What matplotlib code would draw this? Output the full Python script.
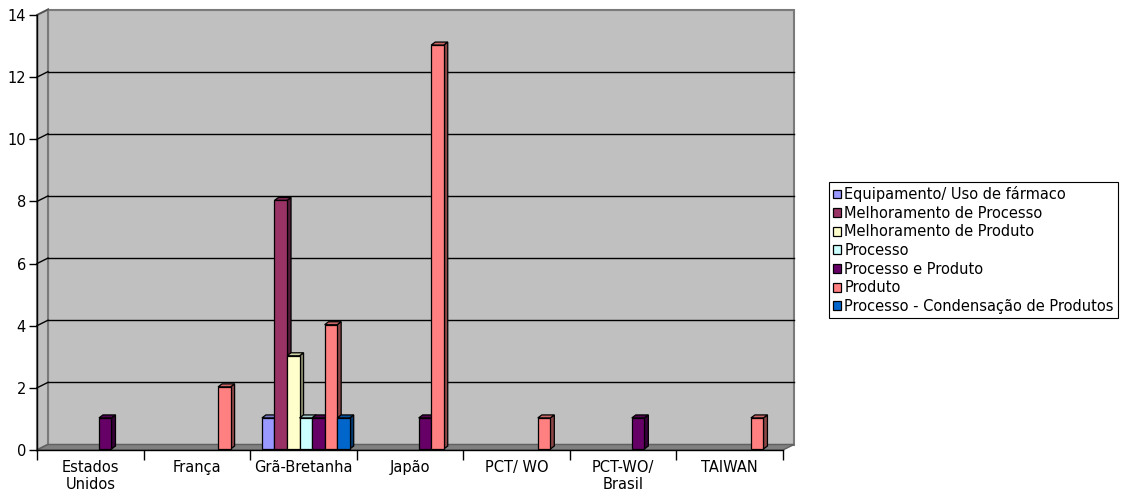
import numpy as np
import matplotlib
matplotlib.use('Agg')
from matplotlib import pyplot as plt
from matplotlib.patches import Polygon
from matplotlib.colors import to_rgb

# Patentes por país de depósito e tipo de reivindicação
paises = ['Estados\nUnidos', 'França', 'Grã-Bretanha', 'Japão',
          'PCT/ WO', 'PCT-WO/\nBrasil', 'TAIWAN']
tipos = ['Equipamento/ Uso de fármaco', 'Melhoramento de Processo',
         'Melhoramento de Produto', 'Processo', 'Processo e Produto',
         'Produto', 'Processo - Condensação de Produtos']
cores = ['#9999FF', '#993366', '#FFFFCC', '#CCFFFF', '#660066',
         '#FF8080', '#0066CC']

equipamento = [0, 0, 1, 0, 0, 0, 0]
melhor_processo = [0, 0, 8, 0, 0, 0, 0]
melhor_produto = [0, 0, 3, 0, 0, 0, 0]
processo = [0, 0, 1, 0, 0, 0, 0]
processo_produto = [1, 0, 1, 1, 0, 1, 0]
produto = [0, 2, 4, 13, 1, 0, 1]
condensacao = [0, 0, 1, 0, 0, 0, 0]
series = [equipamento, melhor_processo, melhor_produto, processo,
          processo_produto, produto, condensacao]

W, H = 1125, 492
fig = plt.figure(figsize=(W / 100, H / 100), dpi=100)
fig.patch.set_facecolor('white')
ax = fig.add_axes([37 / W, 42 / H, 746 / W, 435 / H])
ax.set_xlim(-0.5, 6.5)
ax.set_ylim(0, 14)
ax.patch.set_visible(False)

# pixel -> data unit conversion for the fake 3d depth
sx = 7 / 746
sy = 14 / 435
wdx, wdy = 11 * sx, 5.5 * sy     # back wall offset
bdx, bdy = 2.4 * sx, 1.0 * sy    # bar front face offset
ddx, ddy = 4 * sx, 3 * sy        # bar depth

x0, x1, ytop = -0.5, 6.5, 14
parede = '#C0C0C0'
borda = '#7A7A7A'

# back wall, side wall and floor
ax.add_patch(Polygon([(x0 + wdx, wdy), (x1 + wdx, wdy), (x1 + wdx, ytop + wdy),
                      (x0 + wdx, ytop + wdy)], closed=True, fc=parede, ec=borda,
                     lw=1.5, zorder=0, clip_on=False))
ax.add_patch(Polygon([(x0, 0), (x0 + wdx, wdy), (x0 + wdx, ytop + wdy), (x0, ytop)],
                     closed=True, fc=parede, ec=borda, lw=1.5, zorder=0, clip_on=False))
ax.add_patch(Polygon([(x0, 0), (x1, 0), (x1 + wdx, wdy), (x0 + wdx, wdy)],
                     closed=True, fc='#808080', ec='#606060', lw=1, zorder=1, clip_on=False))

for v in range(2, 13, 2):
    ax.plot([x0 + wdx, x1 + wdx], [v + wdy, v + wdy], color='black', lw=1,
            zorder=1, clip_on=False)
    ax.plot([x0, x0 + wdx], [v, v + wdy], color='black', lw=1, zorder=1, clip_on=False)
ax.plot([x0, x0 + wdx], [ytop, ytop + wdy], color='#505050', lw=1, zorder=1, clip_on=False)


def escurecer(cor, f):
    r, g, b = to_rgb(cor)
    return (r * f, g * f, b * f)


largura = 1 / 8.5
idx = np.arange(len(paises))
for k, (vals, cor, nome) in enumerate(zip(series, cores, tipos)):
    vals = np.array(vals, dtype=float)
    xs = idx - 0.5 + (0.75 + k + 0.5) / 8.5 + bdx
    m = vals > 0
    z = 3 + 0.1 * k
    ax.bar(xs[m], vals[m], width=largura, bottom=bdy, color=cor, edgecolor='black',
           lw=0.9, zorder=z + 0.05, label=nome)
    for xc, v in zip(xs[m], vals[m]):
        xl, xr = xc - largura / 2, xc + largura / 2
        yt = v + bdy
        lado = [(xr, bdy), (xr + ddx, bdy + ddy), (xr + ddx, yt + ddy), (xr, yt)]
        topo = [(xl, yt), (xr, yt), (xr + ddx, yt + ddy), (xl + ddx, yt + ddy)]
        ax.add_patch(Polygon(lado, closed=True, fc=escurecer(cor, 0.55), ec='black',
                             lw=0.9, zorder=z, clip_on=False))
        ax.add_patch(Polygon(topo, closed=True, fc=escurecer(cor, 0.8), ec='black',
                             lw=0.9, zorder=z, clip_on=False))

for s in ['top', 'right']:
    ax.spines[s].set_visible(False)
for s in ['left', 'bottom']:
    ax.spines[s].set_color('black')
    ax.spines[s].set_linewidth(1)
    ax.spines[s].set_zorder(10)

ax.set_yticks(range(0, 15, 2))
ax.tick_params(axis='y', direction='out', length=6, width=1, pad=2, labelsize=10.5)
ax.set_xticks(idx)
ax.set_xticklabels(paises, fontsize=10.5, linespacing=1.1)
ax.set_xticks(np.arange(-0.5, 7, 1), minor=True)
ax.tick_params(axis='x', which='major', length=0, pad=7.5)
ax.tick_params(axis='x', which='minor', direction='out', length=7, width=1)

leg = fig.legend(loc='center left', bbox_to_anchor=(829 / W, (H - 250) / H),
                 frameon=True, fancybox=False, edgecolor='black', framealpha=1,
                 handlelength=0.55, handleheight=0.55, handletextpad=0.2,
                 labelspacing=0.25, borderpad=0.3, borderaxespad=0, fontsize=10.5)
leg.get_frame().set_linewidth(0.8)

fig.savefig('out.png', dpi=100)
